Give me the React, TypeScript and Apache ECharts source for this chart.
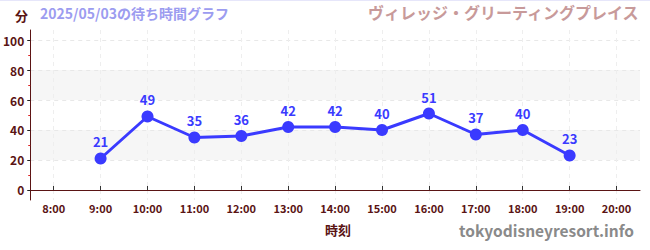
import React, { useEffect, useRef } from "react";
import * as echarts from "echarts";

const hours = [9, 10, 11, 12, 13, 14, 15, 16, 17, 18, 19];
const waits = [21, 49, 35, 36, 42, 42, 40, 51, 37, 40, 23];
const xTickValues = [8, 9, 10, 11, 12, 13, 14, 15, 16, 17, 18, 19, 20];
const yTickValues = [0, 20, 40, 60, 80, 100];
const yMinorValues = [10, 30, 50, 70, 90];
const titleText = "2025/05/03の待ち時間グラフ";
const attractionName = "ヴィレッジ・グリーティングプレイス";
const siteName = "tokyodisneyresort.info";

const FONT = '"Noto Sans CJK JP", "Noto Sans", sans-serif';
const DARK = "#5a1414";

export default function App() {
  const ref = useRef<HTMLDivElement>(null);
  useEffect(() => {
    const chart = echarts.init(ref.current!, null, { renderer: "svg" });
    chart.setOption({
      animation: false,
      textStyle: { fontFamily: FONT },
      grid: { left: 30, right: 10, top: 30, bottom: 50 },
      graphic: [
        { type: "rect", shape: { x: 0, y: 0, width: 650, height: 1 }, style: { fill: "#e6e6fa" } },
        { type: "text", left: 15, top: 9, style: { text: "分", font: `bold 13px ${FONT}`, fill: DARK } },
        { type: "text", left: 40, top: 6, style: { text: titleText, font: `bold 14px ${FONT}`, fill: "#9c9cf0" } },
        { type: "text", right: 10, top: 4, style: { text: attractionName, font: `bold 16px ${FONT}`, fill: "#c89a9a" } },
        { type: "text", left: 325, top: 223, style: { text: "時刻", font: `bold 13px ${FONT}`, fill: DARK } },
        { type: "text", right: 16, top: 222, style: { text: siteName, font: `bold 15.5px ${FONT}`, fill: "#8a8a8a" } },
      ],
      xAxis: {
        type: "value",
        min: 7.5,
        max: 20.5,
        axisLine: { show: true, lineStyle: { color: DARK, width: 1 } },
        axisTick: { show: true, inside: true, length: 4, lineStyle: { color: "#333" }, customValues: xTickValues },
        axisLabel: {
          customValues: xTickValues,
          formatter: (v: number) => `${v}:00`,
          color: DARK,
          fontSize: 11,
          fontWeight: "bold",
          margin: 2,
          fontFamily: FONT,
        },
        splitLine: { show: true, lineStyle: { color: "#eeeeee", type: [4, 4] } },
      },
      yAxis: [
        {
          type: "value",
          min: -6.67,
          max: 106.67,
          axisLine: { show: true, lineStyle: { color: DARK, width: 1 } },
          axisTick: { show: true, length: 3, lineStyle: { color: "#222" }, customValues: yTickValues },
          axisLabel: {
            customValues: yTickValues,
            color: DARK,
            fontSize: 12,
            fontWeight: "bold",
            margin: 6,
            fontFamily: FONT,
          },
          splitLine: { show: true, lineStyle: { color: "#e8e8e8", type: [4, 4] } },
          splitArea: { show: true, areaStyle: { color: ["rgba(255,255,255,0)", "#f6f6f6"] } },
        },
        {
          type: "value",
          position: "left",
          min: -6.67,
          max: 106.67,
          axisLine: { show: false },
          axisTick: { show: true, length: 2, lineStyle: { color: "#dd2222" }, customValues: yMinorValues },
          axisLabel: { show: false },
          splitLine: { show: false },
        },
      ],
      series: [
        {
          type: "line",
          data: hours.map((h, i) => [h, waits[i]]),
          color: "#3a3aff",
          lineStyle: { width: 3, color: "#3a3aff" },
          symbol: "circle",
          symbolSize: 12,
          itemStyle: { color: "#3a3aff" },
          label: {
            show: true,
            position: "top",
            distance: 4,
            color: "#3a3aff",
            fontSize: 13,
            fontWeight: "bold",
            fontFamily: FONT,
          },
        },
      ],
    });
    return () => chart.dispose();
  }, []);
  return (
    <div
      ref={ref}
      style={{ position: "absolute", left: 0, top: 0, width: 650, height: 250, background: "#fff" }}
    />
  );
}
